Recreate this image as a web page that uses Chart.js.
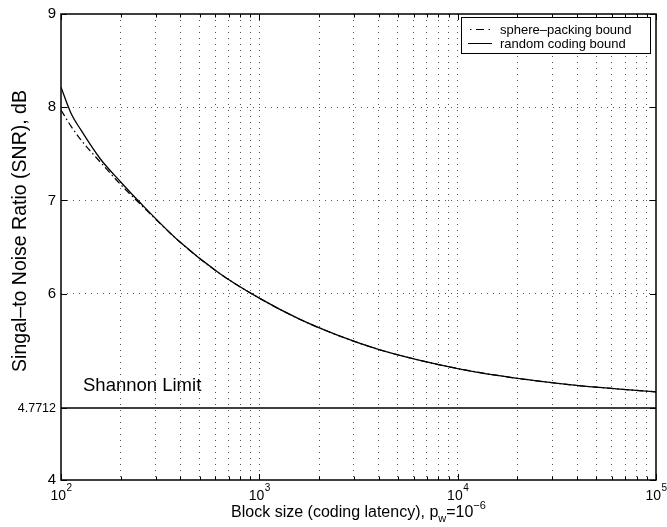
<!DOCTYPE html>
<html>
<head>
<meta charset="utf-8">
<script src="https://cdn.jsdelivr.net/npm/chart.js@4/dist/chart.umd.min.js"></script>
<style>
  body { margin: 0; background: #fff; }
  #grafico { display: block; }
</style>
</head>
<body>
<canvas id="grafico" width="667" height="527"></canvas>
<script>
// =====================================================
// DATOS
// =====================================================

const tamanosBloque = [100, 112, 126, 158, 200, 251, 398, 631, 1000, 1585, 2512, 3981, 6310, 10000, 15849, 25119, 39811, 63096, 100000];
const cotaEsferas   = [7.970, 7.800, 7.650, 7.410, 7.170, 6.960, 6.553, 6.216, 5.951, 5.728, 5.549, 5.402, 5.289, 5.196, 5.122, 5.063, 5.015, 4.978, 4.946];
const cotaAleatoria = [8.214, 7.941, 7.756, 7.444, 7.198, 6.974, 6.553, 6.216, 5.951, 5.728, 5.549, 5.402, 5.289, 5.196, 5.122, 5.063, 5.015, 4.978, 4.946];
const limiteShannon = 4.7712;

const marcasY = [4, 4.7712, 6, 7, 8, 9];
const decadasX = [100, 1000, 10000, 100000];
const exponentesX = ["2", "3", "4", "5"];
const nombresSeries = ["sphere\u2013packing bound", "random coding bound"];

const FUENTE = "'Liberation Sans', Arial, Helvetica, sans-serif";

// marcas menores del eje log (2..9 x 10^k)
const marcasX = [];
decadasX.forEach((d, i) => {
  marcasX.push(d);
  if (i < decadasX.length - 1) {
    for (let k = 2; k <= 9; k++) marcasX.push(d * k);
  }
});

const puntos = (ys) => tamanosBloque.map((n, i) => ({ x: n, y: ys[i] }));

// =====================================================
// PLUGIN: MARCO, MARCAS, TEXTOS Y LEYENDA (ESTILO MATLAB)
// =====================================================

const estiloMatlab = {
  id: "estiloMatlab",
  afterDraw(chart) {
    const ctx = chart.ctx;
    const a = chart.chartArea;
    const sx = chart.scales.x;
    const sy = chart.scales.y;

    ctx.save();
    ctx.strokeStyle = "#000";
    ctx.fillStyle = "#000";

    // marco
    ctx.lineWidth = 1.5;
    ctx.strokeRect(a.left, a.top, a.right - a.left, a.bottom - a.top);

    // marcas hacia adentro
    ctx.lineWidth = 1;
    ctx.beginPath();
    marcasX.forEach(v => {
      const px = Math.round(sx.getPixelForValue(v)) + 0.5;
      const largo = decadasX.includes(v) ? 6 : 3.5;
      ctx.moveTo(px, a.bottom); ctx.lineTo(px, a.bottom - largo);
      ctx.moveTo(px, a.top); ctx.lineTo(px, a.top + largo);
    });
    marcasY.forEach(v => {
      const py = Math.round(sy.getPixelForValue(v)) + 0.5;
      ctx.moveTo(a.left, py); ctx.lineTo(a.left + 6, py);
      ctx.moveTo(a.right, py); ctx.lineTo(a.right - 6, py);
    });
    ctx.stroke();

    // etiquetas del eje x: 10^k
    ctx.textBaseline = "alphabetic";
    ctx.textAlign = "left";
    decadasX.forEach((v, i) => {
      const px = sx.getPixelForValue(v);
      ctx.font = "14px " + FUENTE;
      const wBase = ctx.measureText("10").width;
      ctx.font = "10px " + FUENTE;
      const wExp = ctx.measureText(exponentesX[i]).width;
      const x0 = px - (wBase + wExp) / 2;
      ctx.font = "14px " + FUENTE;
      ctx.fillText("10", x0, 500);
      ctx.font = "10px " + FUENTE;
      ctx.fillText(exponentesX[i], x0 + wBase + 0.5, 491);
    });

    // titulo eje x con subindice y superindice
    const partes = [
      { t: "Block size (coding latency), p", f: 16, dy: 0 },
      { t: "w", f: 11, dy: 5 },
      { t: "=10", f: 16, dy: 0 },
      { t: "\u22126", f: 11, dy: -8 }
    ];
    let total = 0;
    partes.forEach(p => { ctx.font = p.f + "px " + FUENTE; p.w = ctx.measureText(p.t).width; total += p.w; });
    let xt = (a.left + a.right) / 2 - total / 2;
    partes.forEach(p => {
      ctx.font = p.f + "px " + FUENTE;
      ctx.fillText(p.t, xt, 517 + p.dy);
      xt += p.w;
    });

    // titulo eje y
    ctx.save();
    ctx.translate(26, 231);
    ctx.rotate(-Math.PI / 2);
    ctx.textAlign = "center";
    ctx.font = "19.5px " + FUENTE;
    ctx.fillText("Singal\u2013to Noise Ratio (SNR), dB", 0, 0);
    ctx.restore();

    // texto del limite de Shannon
    ctx.font = "18.5px " + FUENTE;
    ctx.textAlign = "left";
    ctx.fillText("Shannon Limit", 83, 391);

    // leyenda
    const lx = 461, ly = 17, lw = 189, lh = 36;
    ctx.fillStyle = "#fff";
    ctx.fillRect(lx, ly, lw, lh);
    ctx.strokeStyle = "#000";
    ctx.lineWidth = 1;
    ctx.strokeRect(lx + 0.5, ly + 0.5, lw, lh);
    ctx.fillStyle = "#000";
    ctx.font = "13px " + FUENTE;
    ctx.textBaseline = "middle";
    const filas = [29, 43];
    filas.forEach((fy, i) => {
      ctx.beginPath();
      ctx.setLineDash(i === 0 ? [1.5, 4.5, 8, 4.5, 1.5, 10] : []);
      ctx.moveTo(i === 0 ? 470 : 468, fy + 0.5);
      ctx.lineTo(492, fy + 0.5);
      ctx.stroke();
      ctx.setLineDash([]);
      ctx.fillText(nombresSeries[i], 500, fy + 1);
    });

    ctx.restore();
  }
};

// =====================================================
// GRAFICO
// =====================================================

new Chart(document.getElementById("grafico"), {
  type: "line",
  data: {
    datasets: [
      {
        label: nombresSeries[0],
        data: puntos(cotaEsferas),
        borderColor: "#000",
        borderWidth: 1.2,
        borderDash: [7, 3, 1.5, 3],
        pointRadius: 0,
        cubicInterpolationMode: "monotone"
      },
      {
        label: nombresSeries[1],
        data: puntos(cotaAleatoria),
        borderColor: "#000",
        borderWidth: 1.3,
        pointRadius: 0,
        cubicInterpolationMode: "monotone"
      },
      {
        label: "Shannon Limit",
        data: [
          { x: decadasX[0], y: limiteShannon },
          { x: decadasX[decadasX.length - 1], y: limiteShannon }
        ],
        borderColor: "#000",
        borderWidth: 1.5,
        pointRadius: 0
      }
    ]
  },
  options: {
    responsive: false,
    animation: false,
    layout: { padding: { top: 12, right: 11, left: 0, bottom: 0 } },
    plugins: {
      legend: { display: false },
      tooltip: { enabled: false }
    },
    scales: {
      x: {
        type: "logarithmic",
        min: 100,
        max: 100000,
        afterBuildTicks: (s) => { s.ticks = marcasX.map(v => ({ value: v })); },
        afterFit: (s) => { s.height = 47; },
        ticks: { display: false },
        border: { display: false, dash: [1, 5] },
        grid: {
          drawTicks: false,
          lineWidth: 1,
          color: (c) => (c.tick && (c.tick.value === 100 || c.tick.value === 100000)) ? "rgba(0,0,0,0)" : "#555"
        }
      },
      y: {
        type: "linear",
        min: 4,
        max: 9,
        afterBuildTicks: (s) => { s.ticks = marcasY.map(v => ({ value: v })); },
        afterFit: (s) => { s.width = 61; },
        ticks: {
          color: "#000",
          padding: 5,
          callback: (v) => String(v),
          font: (c) => ({ family: FUENTE, size: (c.tick && c.tick.value === limiteShannon) ? 12.5 : 15 })
        },
        border: { display: false, dash: [1, 5] },
        grid: {
          drawTicks: false,
          lineWidth: 1,
          color: (c) => (c.tick && [4, 9, limiteShannon].includes(c.tick.value)) ? "rgba(0,0,0,0)" : "#555"
        }
      }
    }
  },
  plugins: [estiloMatlab]
});
</script>
</body>
</html>
